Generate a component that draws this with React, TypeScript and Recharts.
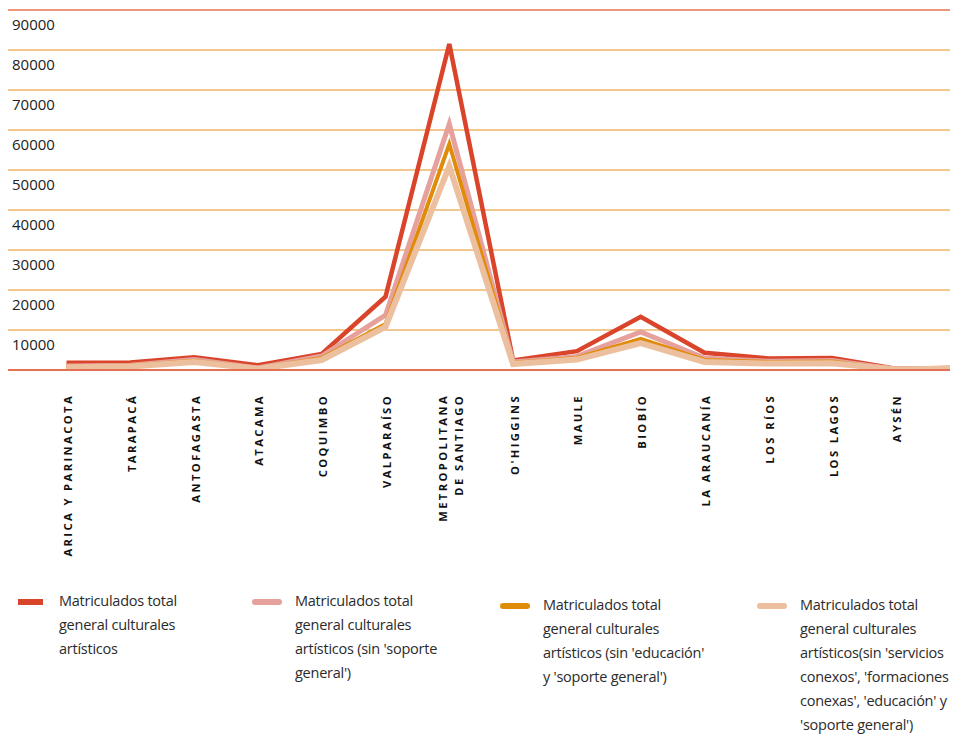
import React from 'react';
import { LineChart, Line, XAxis, YAxis, CartesianGrid, ReferenceLine } from 'recharts';

const regions = [
  'ARICA Y PARINACOTA',
  'TARAPACÁ',
  'ANTOFAGASTA',
  'ATACAMA',
  'COQUIMBO',
  'VALPARAÍSO',
  'METROPOLITANA\nDE SANTIAGO',
  "O'HIGGINS",
  'MAULE',
  'BIOBÍO',
  'LA ARAUCANÍA',
  'LOS RÍOS',
  'LOS LAGOS',
  'AYSÉN',
  'MAGALLANES',
];

const totalGeneral = [1800, 1900, 3200, 1200, 4000, 18300, 81500, 2400, 4700, 13300, 4300, 2900, 3000, 300, 500];
const sinSoporte = [1000, 1200, 2600, 500, 3500, 13700, 61500, 2000, 3400, 9500, 3000, 2200, 2400, 200, 500];
const sinEducacion = [900, 1100, 2300, 400, 3000, 11500, 56500, 1800, 3000, 7800, 2500, 2000, 2100, 150, 450];
const sinServicios = [700, 900, 2000, 300, 2500, 10800, 51000, 1500, 2600, 6700, 2000, 1600, 1700, 100, 400];

const yTicks = [0, 10000, 20000, 30000, 40000, 50000, 60000, 70000, 80000, 90000];

const seriesNames = [
  'Matriculados total general culturales artísticos',
  "Matriculados total general culturales artísticos (sin 'soporte general')",
  "Matriculados total general culturales artísticos (sin 'educación' y 'soporte general')",
  "Matriculados total general culturales artísticos(sin 'servicios conexos', 'formaciones conexas', 'educación' y 'soporte general')",
];

// cortes de línea como en la leyenda original
const legendLines = [
  ['Matriculados total', 'general culturales', 'artísticos'],
  ['Matriculados total', 'general culturales', "artísticos (sin 'soporte", "general')"],
  ['Matriculados total', 'general culturales', "artísticos (sin 'educación'", "y 'soporte general')"],
  ['Matriculados total', 'general culturales', "artísticos(sin 'servicios", "conexos', 'formaciones", "conexas', 'educación' y", "'soporte general')"],
];

const data = regions.map((r, i) => ({
  idx: i,
  region: r,
  total: totalGeneral[i],
  sinSoporte: sinSoporte[i],
  sinEducacion: sinEducacion[i],
  sinServicios: sinServicios[i],
}));

const series = [
  { key: 'total', color: '#D9442B', width: 4.5, rounded: false },
  { key: 'sinSoporte', color: '#E6A19C', width: 5, rounded: true },
  { key: 'sinEducacion', color: '#E08C0B', width: 4, rounded: true },
  { key: 'sinServicios', color: '#ECC09E', width: 6, rounded: true },
];

const legendLeft = [10, 244, 492, 749];
const legendTop = [581, 581, 585, 585];

const FONT = '"Open Sans", "Noto Sans", sans-serif';

function RegionTick(props: any) {
  const { x, payload } = props;
  const label = regions[payload.value] ?? '';
  const lines = label.split('\n');
  const offs = lines.length === 1 ? [1] : [-7, 9];
  return (
    <g transform={`translate(${x},386) rotate(-90)`}>
      {lines.map((l: string, j: number) => (
        <text
          key={j}
          x={0}
          y={offs[j]}
          textAnchor="end"
          dominantBaseline="central"
          fontFamily={FONT}
          fontWeight={700}
          fontSize={11.2}
          letterSpacing={2.4}
          fill="#111"
        >
          {l}
        </text>
      ))}
    </g>
  );
}

function ValueTick(props: any) {
  const { y, payload } = props;
  if (payload.value === 0) return null;
  return (
    <text x={4} y={y + 14} dominantBaseline="central" textAnchor="start" fontFamily={FONT} fontSize={15} fill="#222">
      {payload.value}
    </text>
  );
}

export default function App() {
  return (
    <div style={{ position: 'relative', width: 950, height: 726, overflow: 'hidden', fontFamily: FONT }}>
      <LineChart width={1000} height={570} data={data} margin={{ top: 2, right: 0, left: 0, bottom: 0 }}>
        <CartesianGrid vertical={false} stroke="#E3901F" strokeWidth={1.2} />
        <XAxis
          type="number"
          dataKey="idx"
          domain={[-0.917, 14.757]}
          ticks={regions.map((_, i) => i)}
          allowDataOverflow
          axisLine={false}
          tickLine={false}
          height={208}
          interval={0}
          tick={<RegionTick />}
        />
        <YAxis
          domain={[0, 90000]}
          ticks={yTicks}
          allowDataOverflow
          mirror
          width={60}
          interval={0}
          axisLine={false}
          tickLine={false}
          tick={<ValueTick />}
        />
        <ReferenceLine y={90000} stroke="#EC8672" strokeWidth={1.5} />
        {series.map((s, i) => (
          <Line
            key={s.key}
            type="linear"
            dataKey={s.key}
            name={seriesNames[i]}
            stroke={s.color}
            strokeWidth={s.width}
            dot={false}
            activeDot={false}
            isAnimationActive={false}
          />
        ))}
        <ReferenceLine y={0} stroke="#E2553B" strokeWidth={1.5} />
      </LineChart>
      {series.map((s, i) => (
        <div key={s.key} style={{ position: 'absolute', left: legendLeft[i], top: legendTop[i] }}>
          <div
            style={{
              position: 'absolute',
              left: 0,
              top: 10,
              width: i === 0 ? 25 : 30,
              height: 6,
              borderRadius: s.rounded ? 3 : 0,
              background: s.color,
            }}
          />
          <div
            style={{
              position: 'absolute',
              left: i === 0 ? 41 : 43,
              top: 0,
              fontSize: 14.5,
              letterSpacing: -0.25,
              lineHeight: '24px',
              color: '#2b2b2b',
              whiteSpace: 'nowrap',
            }}
          >
            {legendLines[i].map((l, j) => (
              <div key={j}>{l}</div>
            ))}
          </div>
        </div>
      ))}
    </div>
  );
}
